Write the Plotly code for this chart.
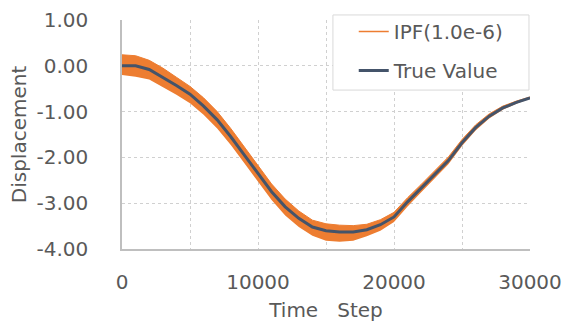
import plotly.graph_objects as go

time_steps = [0, 1000, 2000, 3000, 4000, 5000, 6000, 7000, 8000, 9000, 10000,
              11000, 12000, 13000, 14000, 15000, 16000, 17000, 18000, 19000, 20000,
              21000, 22000, 23000, 24000, 25000, 26000, 27000, 28000, 29000, 30000]
true_value = [0.00, 0.00, -0.08, -0.25, -0.43, -0.62, -0.88, -1.18, -1.55, -1.95, -2.35,
              -2.75, -3.08, -3.33, -3.52, -3.60, -3.63, -3.63, -3.58, -3.47, -3.30,
              -2.97, -2.67, -2.37, -2.07, -1.68, -1.35, -1.10, -0.92, -0.80, -0.70]
ipf_upper = [0.24, 0.22, 0.12, -0.05, -0.25, -0.45, -0.70, -1.00, -1.37, -1.77, -2.17,
             -2.58, -2.91, -3.17, -3.37, -3.45, -3.48, -3.49, -3.46, -3.36, -3.20,
             -2.88, -2.59, -2.29, -1.99, -1.61, -1.29, -1.05, -0.88, -0.77, -0.68]
ipf_lower = [-0.20, -0.24, -0.30, -0.47, -0.63, -0.82, -1.07, -1.37, -1.73, -2.13, -2.53,
             -2.93, -3.27, -3.52, -3.71, -3.82, -3.84, -3.82, -3.72, -3.60, -3.41,
             -3.07, -2.76, -2.45, -2.15, -1.75, -1.41, -1.15, -0.96, -0.83, -0.72]

x_tick_vals = [0, 10000, 20000, 30000]
x_tick_text = ["0", "10000", "20000", "30000"]
y_tick_vals = [1, 0, -1, -2, -3, -4]
y_tick_text = ["1.00", "0.00", "-1.00", "-2.00", "-3.00", "-4.00"]

ORANGE = "#ed7d31"
DARK = "#44546a"
FONT = "DejaVu Sans"
TXT = "#595959"

fig = go.Figure()
fig.add_trace(go.Scatter(x=time_steps, y=ipf_lower, mode="lines",
                         line=dict(width=0, color=ORANGE), showlegend=False,
                         hoverinfo="skip"))
fig.add_trace(go.Scatter(x=time_steps, y=ipf_upper, mode="lines", fill="tonexty",
                         fillcolor=ORANGE, line=dict(width=1, color=ORANGE),
                         showlegend=False, hoverinfo="skip"))
fig.add_trace(go.Scatter(x=[None], y=[None], mode="lines", name="IPF(1.0e-6)",
                         line=dict(width=1.5, color=ORANGE), legendgroup="a"))
fig.add_trace(go.Scatter(x=time_steps, y=true_value, mode="lines", name="True Value",
                         line=dict(width=3, color=DARK), legendgroup="b"))

# legend frame
fig.add_shape(type="rect", xref="paper", yref="paper",
              x0=0.517, x1=0.9975, y0=0.694, y1=1.022,
              fillcolor="white", line=dict(color="#d9d9d9", width=1), layer="above")

fig.update_layout(
    width=566, height=325,
    margin=dict(l=122, r=36, t=20, b=76),
    paper_bgcolor="white", plot_bgcolor="white",
    font=dict(family=FONT, size=20, color=TXT),
    legend=dict(x=0.568, xanchor="left", y=1.035, yanchor="top",
                bgcolor="rgba(0,0,0,0)", borderwidth=0,
                font=dict(size=20, color=TXT),
                traceorder="grouped", tracegroupgap=10),
)
fig.update_xaxes(
    range=[0, 30000], tickvals=x_tick_vals, ticktext=x_tick_text,
    showgrid=True, gridcolor="#d0d0d0", griddash="dot", gridwidth=1,
    minor=dict(dtick=5000, tick0=0, showgrid=True, gridcolor="#d0d0d0", griddash="dot"),
    showline=True, linecolor="#bfbfbf", linewidth=1.5,
    ticks="", ticklabelstandoff=14, zeroline=False, automargin=False,
    title=dict(text="Time\u00a0\u00a0\u00a0Step", font=dict(size=20, color=TXT), standoff=10),
)
fig.update_yaxes(
    range=[-4, 1], tickvals=y_tick_vals, ticktext=y_tick_text,
    showgrid=True, gridcolor="#d0d0d0", griddash="dot", gridwidth=1,
    showline=True, linecolor="#bfbfbf", linewidth=1.5,
    ticks="", ticklabelstandoff=28, zeroline=False, automargin=False,
    title=dict(text="Displacement", font=dict(size=20, color=TXT), standoff=5),
)

fig.write_html("out.html", config={"displayModeBar": False},
               post_script="document.body.style.margin='0';")
